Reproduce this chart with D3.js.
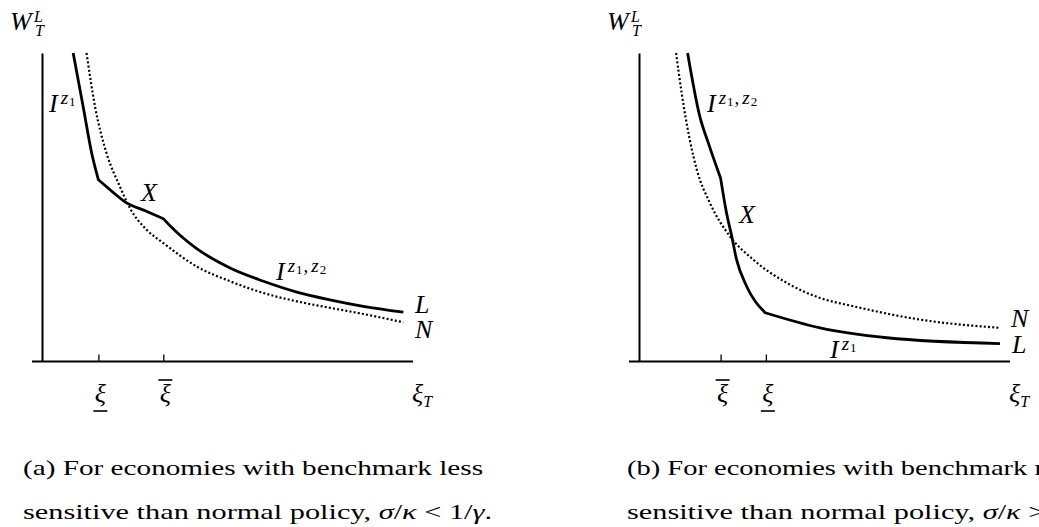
<!DOCTYPE html>
<html><head><meta charset="utf-8">
<script src="https://cdn.jsdelivr.net/npm/d3@7"></script>
<style>
body{margin:0;background:#fff;}
svg{display:block;}
svg text{font-family:'Liberation Serif','DejaVu Serif','Times New Roman','Noto Serif',Times,serif;fill:#000;}
</style>
</head><body>
<svg id="c" width="1039" height="527" font-family="Liberation Serif, DejaVu Serif, Times New Roman, serif"></svg>
<script>
// ---------- data (abstract units: x = xi_T, y = W_T^L) ----------
// Panel (a)
const ticksA = [1.52, 3.27];
const tickMarksA = ["under", "over"];
const tickLabelsA = ["ξ", "ξ"];
const lA_seg1 = [[0.84,10.0],[1.11,8.26],[1.34,6.75],[1.52,5.89]];
const lA_seg2 = [[1.52,5.89],[1.90,5.50],[2.28,5.14],[2.80,4.88],[3.27,4.63]];
const lA_seg3 = [[3.27,4.63],[3.50,4.34],[3.72,4.09],[4.17,3.66],[5.07,3.03],[5.97,2.60],[6.87,2.25],[7.76,2.00],[8.66,1.79],[9.74,1.60]];
const nA = [[1.20,10.0],[1.43,8.26],[1.74,6.75],[2.10,5.67],[2.37,4.97],[2.82,4.27],[3.27,3.84],[4.17,3.08],[5.07,2.60],[5.97,2.22],[6.87,1.95],[7.76,1.74],[8.66,1.54],[9.74,1.27]];
// Panel (b)
const ticksB = [2.20, 3.42];
const tickMarksB = ["over", "under"];
const tickLabelsB = ["ξ", "ξ"];
const lB_seg1 = [[1.31,10.0],[1.64,7.94],[1.87,7.08],[2.20,5.94]];
const lB_seg2 = [[2.20,5.94],[2.36,4.81],[2.50,4.06],[2.63,3.30],[2.90,2.44],[3.40,1.58]];
const lB_seg3 = [[3.40,1.58],[4.88,1.09],[6.68,0.77],[9.73,0.58]];
const nB = [[1.00,10.0],[1.15,8.70],[1.37,7.18],[1.56,6.21],[1.91,5.14],[2.45,4.06],[3.08,3.30],[3.98,2.55],[4.88,2.06],[5.78,1.79],[7.57,1.36],[9.73,1.09]];

// ---------- drawing ----------
const svg = d3.select("#c");
const MATH = 26;

function mathText(g, x, y, parts) {
  const t = g.append("text").attr("x", x).attr("y", y);
  parts.forEach(p => {
    t.append("tspan").text(p[0]).attr("font-size", p[1])
      .attr("dy", p[2] || 0).attr("dx", p[4] || 0)
      .attr("font-style", p[3] ? "italic" : "normal");
  });
  return t;
}

function panel(cfg) {
  const g = svg.append("g");
  const xs = d3.scaleLinear().domain([0, 10]).range([cfg.x0, cfg.x1]);
  const ys = d3.scaleLinear().domain([0, 10]).range([361.5, 53]);

  const ya = g.append("g").attr("transform", `translate(${cfg.x0},0)`)
    .call(d3.axisLeft(ys).tickValues([]).tickSizeOuter(0));
  ya.select(".domain").attr("stroke", "#000").attr("stroke-width", 2);

  const xa = g.append("g").attr("transform", `translate(0,${ys(0)})`)
    .call(d3.axisBottom(xs).tickValues(cfg.ticks).tickSizeInner(-7).tickSizeOuter(0).tickFormat(""));
  xa.select(".domain").remove();
  xa.selectAll(".tick line").attr("stroke", "#000").attr("stroke-width", 1.3);
  g.append("line").attr("x1", cfg.x0 - 10).attr("x2", xs(10)).attr("y1", ys(0)).attr("y2", ys(0))
    .attr("stroke", "#000").attr("stroke-width", 2);

  cfg.ticks.forEach((v, i) => {
    const cx = xs(v) + 2;
    g.append("text").attr("x", cx).attr("y", 402).attr("text-anchor", "middle")
      .attr("font-size", MATH).attr("font-style", "italic").text(cfg.tickLabels[i]);
    const by = cfg.tickMarks[i] === "under" ? 411 : 380;
    g.append("line").attr("x1", cx - 7).attr("x2", cx + 7).attr("y1", by).attr("y2", by)
      .attr("stroke", "#000").attr("stroke-width", 1.6);
  });

  const line = d3.line().x(d => xs(d[0])).y(d => ys(d[1])).curve(d3.curveMonotoneX);
  g.append("path").attr("d", line(cfg.n)).attr("fill", "none").attr("stroke", "#000")
    .attr("stroke-width", 2.2).attr("stroke-dasharray", "2,2.2");
  const d = cfg.l.map((s, i) => i ? line(s).replace(/^M/, "L") : line(s)).join("");
  g.append("path").attr("d", d).attr("fill", "none").attr("stroke", "#000")
    .attr("stroke-width", 2.8).attr("stroke-linejoin", "round");

  mathText(g, cfg.x0 - 32, 30, [["W", MATH, 0, true]]);
  mathText(g, cfg.x0 - 8, 22, [["L", 16, 0, true]]);
  mathText(g, cfg.x0 - 7, 36, [["T", 16, 0, true]]);
  mathText(g, xs(10) - 1, 402, [["ξ", MATH, 0, true], ["T", 16, 5, true, 0]]);
  return {g, xs, ys};
}

const A = panel({x0: 42, x1: 413, ticks: ticksA, tickMarks: tickMarksA, tickLabels: tickLabelsA,
  l: [lA_seg1, lA_seg2, lA_seg3], n: nA});
const B = panel({x0: 639, x1: 1010, ticks: ticksB, tickMarks: tickMarksB, tickLabels: tickLabelsB,
  l: [lB_seg1, lB_seg2, lB_seg3], n: nB});

function Iz1(g, x, y) {
  mathText(g, x, y, [["I", MATH, 0, true], ["z", 19, -8, true, 3], ["1", 13, 2, false, 1]]);
}
function Iz12(g, x, y) {
  mathText(g, x, y, [["I", MATH, 0, true], ["z", 19, -8, true, 3], ["1", 13, 2, false, 1],
    [",", 19, -2, false, 1], ["z", 19, 0, true, 3], ["2", 13, 2, false, 1]]);
}
Iz1(A.g, 49, 112);
Iz12(A.g, 276, 280);
mathText(A.g, 141, 201, [["X", MATH, 0, true]]);
mathText(A.g, 415, 313, [["L", MATH, 0, true]]);
mathText(A.g, 415, 338, [["N", MATH, 0, true]]);

Iz12(B.g, 707, 112);
Iz1(B.g, 830, 358);
mathText(B.g, 739, 223, [["X", MATH, 0, true]]);
mathText(B.g, 1011, 327, [["N", MATH, 0, true]]);
mathText(B.g, 1012, 353, [["L", MATH, 0, true]]);

function caption(x, l1, rel, len1, len2) {
  svg.append("text").attr("x", x).attr("y", 475).attr("font-size", 22)
    .attr("textLength", len1).attr("lengthAdjust", "spacingAndGlyphs").text(l1);
  const t = svg.append("text").attr("x", x).attr("y", 519).attr("font-size", 22)
    .attr("textLength", len2).attr("lengthAdjust", "spacingAndGlyphs");
  t.append("tspan").text("sensitive than normal policy, ");
  t.append("tspan").attr("font-style", "italic").text("σ");
  t.append("tspan").text("/");
  t.append("tspan").attr("font-style", "italic").text("κ");
  t.append("tspan").text(" " + rel + " 1/");
  t.append("tspan").attr("font-style", "italic").text("γ");
  t.append("tspan").text(".");
}
caption(23, "(a) For economies with benchmark less", "<", 460, 469);
caption(627, "(b) For economies with benchmark more", ">", 466, 469);
</script>
</body></html>
